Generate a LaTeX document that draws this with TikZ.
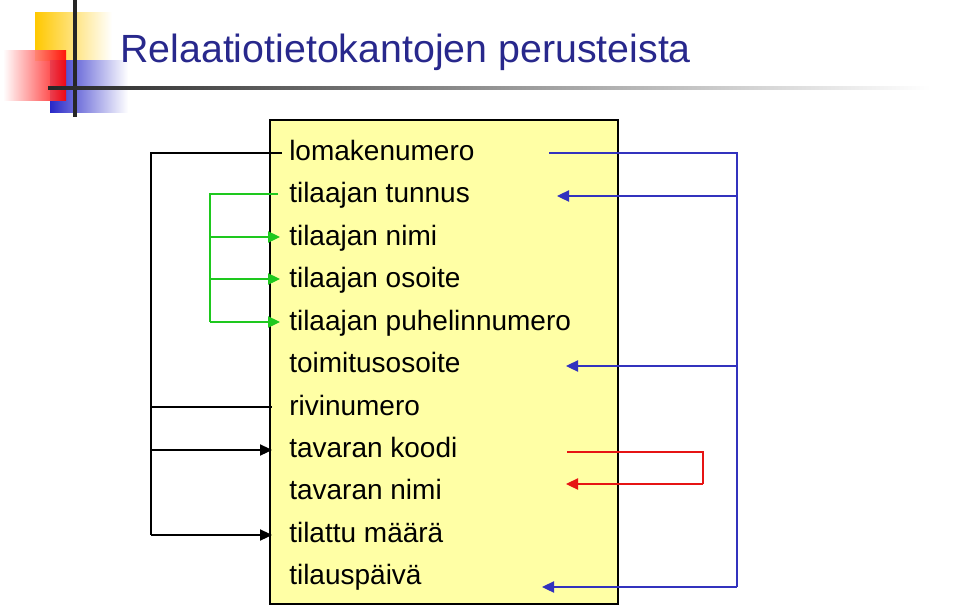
\documentclass[tikz,border=0pt]{standalone}
\usepackage{fontspec}
\setmainfont{Liberation Sans}
\usetikzlibrary{arrows.meta}
\definecolor{titleblue}{RGB}{40,40,140}
\definecolor{boxyellow}{RGB}{255,255,165}
\definecolor{lgreen}{RGB}{30,200,30}
\definecolor{lblue}{RGB}{50,50,190}
\definecolor{lred}{RGB}{230,20,20}
\definecolor{logoyellow}{RGB}{255,200,0}
\definecolor{logoblue}{RGB}{40,40,200}
\begin{document}
\begin{tikzpicture}[x=0.75pt,y=-0.75pt,
  field/.style={anchor=base west,inner sep=0pt,font=\fontsize{21}{24}\selectfont},
  tip/.style={-{Triangle[length=9pt,width=8.5pt]}},
  conn/.style={line width=0.8pt}]
\useasboundingbox (0,0) rectangle (960,607);
% logo
\shade[left color=logoyellow,right color=white] (35,12) rectangle (112,60);
\shade[left color=logoblue,right color=white] (50,60) rectangle (128,112);
\shade[left color=white,right color=red,opacity=0.9] (3,50) rectangle (66,100);
\draw[line width=2.5pt,black!85] (75,0) -- (75,117);
\shade[left color=black!85,right color=white] (48,86) rectangle (930,89);
\node[anchor=base west,inner sep=0pt,text=titleblue,font=\fontsize{29.5}{32}\selectfont] (title) at (120,62) {Relaatiotietokantojen perusteista};
% box
\draw[fill=boxyellow,line width=0.8pt] (270,120) rectangle (618,604);
\foreach \n/\y/\t in {1/160/lomakenumero,2/202/tilaajan tunnus,3/245/tilaajan nimi,4/287/tilaajan osoite,5/330/tilaajan puhelinnumero,6/372/toimitusosoite,7/415/rivinumero,8/457/tavaran koodi,9/499/tavaran nimi,10/542/tilattu määrä,11/584/tilauspäivä}
  \node[field] (t\n) at (289,\y) {\t};
% black
\draw[conn] (282,153) -- (151,153) -- (151,535);
\draw[conn,tip] (151,535) -- (272,535);
\draw[conn] (151,407) -- (272,407);
\draw[conn,tip] (151,450) -- (272,450);
% green
\draw[conn,lgreen] (278,194) -- (210,194) -- (210,322);
\draw[conn,lgreen,tip] (210,237) -- (280,237);
\draw[conn,lgreen,tip] (210,279) -- (280,279);
\draw[conn,lgreen,tip] (210,322) -- (280,322);
% blue
\draw[conn,lblue] (549,153) -- (737,153) -- (737,587);
\draw[conn,lblue,tip] (737,196) -- (557,196);
\draw[conn,lblue,tip] (737,366) -- (566,366);
\draw[conn,lblue,tip] (737,587) -- (542,587);
% red
\draw[conn,lred] (567,452) -- (703,452) -- (703,484);
\draw[conn,lred,tip] (703,484) -- (566,484);
\end{tikzpicture}
\end{document}
